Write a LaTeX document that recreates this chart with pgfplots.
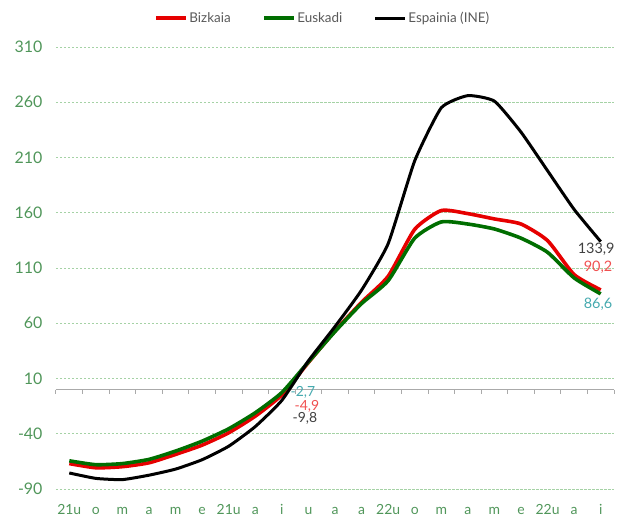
\documentclass[border=0pt]{standalone}
\usepackage{pgfplots}
\pgfplotsset{compat=1.18}
\usepackage{fontspec}
\setmainfont{Lato}
\definecolor{cred}{RGB}{230,0,0}
\definecolor{cgreen}{RGB}{0,110,0}
\definecolor{tickgreen}{RGB}{80,150,90}
\definecolor{gridgreen}{RGB}{165,210,165}
\definecolor{labgray}{RGB}{64,64,64}
\definecolor{labred}{RGB}{240,80,80}
\definecolor{labteal}{RGB}{70,170,175}
\definecolor{axgray}{RGB}{170,170,170}
\definecolor{leggray}{RGB}{89,89,89}

\pgfplotstableread{
x red green black
0 -67 -64.5 -75.5
1 -70.8 -68 -80.4
2 -69.8 -67 -81.5
3 -66.3 -63.2 -77.5
4 -58.7 -55.7 -72
5 -50.3 -46.7 -63.5
6 -39.1 -35.5 -51.3
7 -24.1 -21 -33.5
8 -4.9 -2.7 -9.8
9 24.5 25 26
10 53 52.5 57
11 79 77.8 90
12 102.5 98.5 132
13 145 137 207
14 162 151.7 255
15 159.2 149.8 266
16 154.4 145.3 261
17 149.8 137 233
18 134.8 124.2 198
19 104 101 163
20 90.2 86.6 133.9
}\datatable

\begin{document}
\begin{tikzpicture}
\begin{axis}[
  name=ax, at={(0bp,0bp)}, anchor=south west,
  scale only axis, width=558bp, height=442bp,
  xmin=-0.5, xmax=20.5, ymin=-90, ymax=310,
  ytick={-90,-40,...,310},
  xtick={0,...,20},
  xticklabels={21u,o,m,a,m,e,21u,a,i,u,a,a,22u,o,m,a,m,e,22u,a,i},
  ymajorgrids,
  grid style={gridgreen, dash pattern=on 2.5bp off 1.5bp, line width=0.8bp},
  axis line style={draw=none},
  major tick length=0,
  tick label style={tickgreen},
  /pgf/number format/assume math mode=true,
  yticklabel style={font=\fontsize{16}{16}\selectfont, anchor=east, xshift=-10bp},
  xticklabel style={font=\fontsize{14}{14}\selectfont, anchor=base, yshift=-25bp},
  clip=false,
  legend columns=3,
  legend style={draw=none, fill=none, at={(0.4776,1.0656)}, anchor=center,
    font=\fontsize{13.5}{13.5}\selectfont, text=leggray,
    nodes={inner sep=1.5bp},
    /tikz/every even column/.append style={column sep=30bp}},
  legend image code/.code={\draw[#1] (0bp,0bp) -- (30bp,0bp);},
]
\draw[axgray, line width=1bp] (axis cs:-0.5,0) -- (axis cs:20.5,0);
\pgfplotsinvokeforeach{-0.5,0.5,...,20.5}{
  \draw[axgray, line width=1bp] (axis cs:#1,0) -- ++(0bp,-4bp);
}
\addplot[cred, line width=3.6bp, smooth, tension=0.35] table[x=x, y=red] {\datatable};
\addlegendentry{Bizkaia}
\addplot[cgreen, line width=3.6bp, smooth, tension=0.35] table[x=x, y=green] {\datatable};
\addlegendentry{Euskadi}
\addplot[black, line width=3bp, smooth, tension=0.3] table[x=x, y=black] {\datatable};
\addlegendentry{Espainia (INE)}

\node[labgray, font=\fontsize{14.5}{14.5}\selectfont] at (axis cs:19.83,126.7) {133,9};
\node[labred, font=\fontsize{14.5}{14.5}\selectfont] at (axis cs:19.9,110.5) {90,2};
\node[labteal, font=\fontsize{14.5}{14.5}\selectfont] at (axis cs:19.9,77) {86,6};
\node[labteal, font=\fontsize{14}{14}\selectfont] at (axis cs:8.79,-2.8) {-2,7};
\node[labred, font=\fontsize{14}{14}\selectfont] at (axis cs:8.94,-14.8) {-4,9};
\node[labgray, font=\fontsize{14}{14}\selectfont] at (axis cs:8.87,-26.3) {-9,8};
\end{axis}
\pgfresetboundingbox
\path[use as bounding box] (-56bp,-29bp) rectangle (566bp,489bp);
\end{tikzpicture}
\end{document}
